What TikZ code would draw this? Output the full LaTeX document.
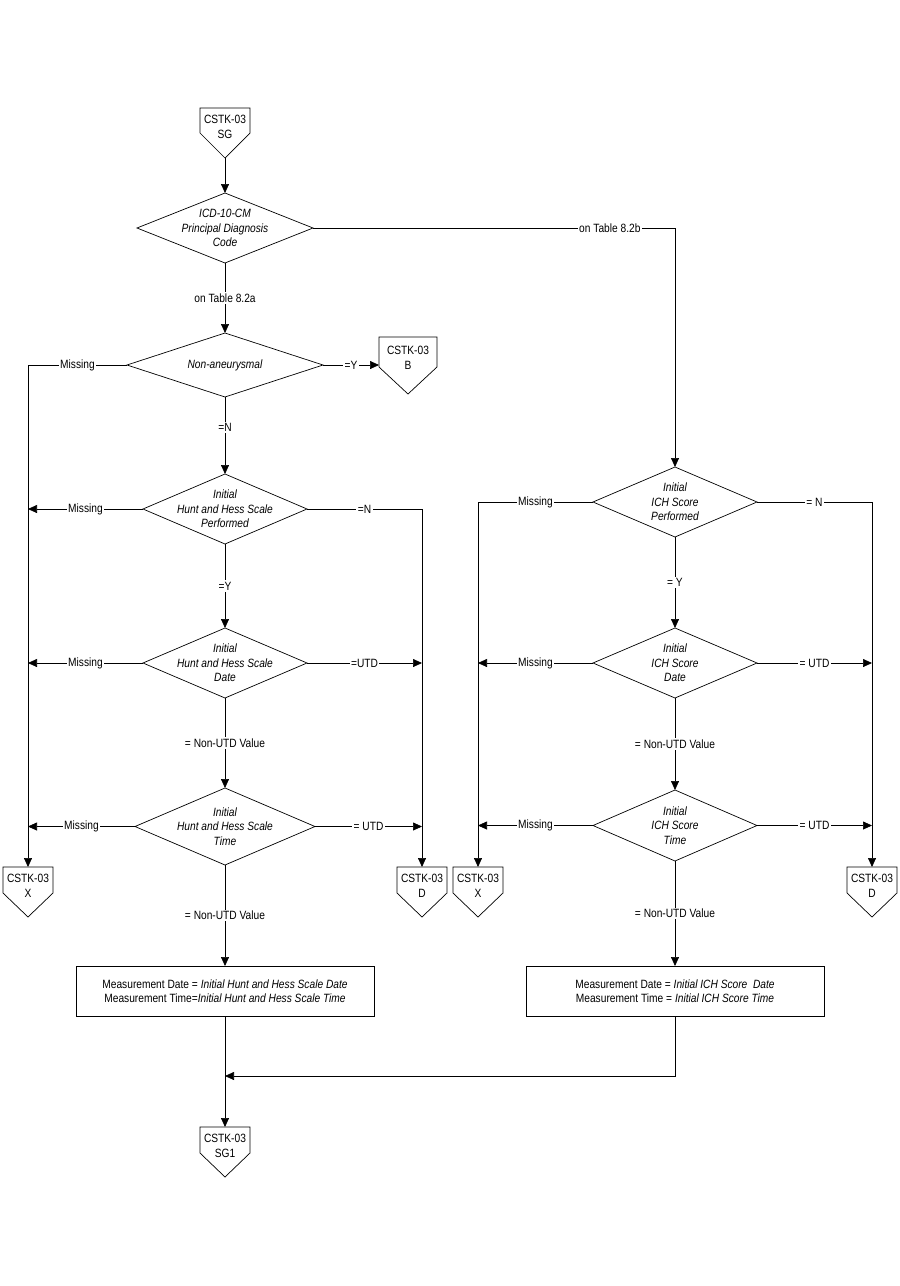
\documentclass[tikz,border=0pt]{standalone}
\usepackage{fontspec}
\setmainfont{Liberation Sans}[FakeStretch=0.85]
\usetikzlibrary{arrows.meta,shapes.geometric,calc}
\newcommand{\offpage}[8]{%
  \node[anchor=north, inner sep=0pt, outer sep=0pt, minimum width=#4pt, minimum height=#5pt] (#1) at (#2,#3) {};
  \draw[ln] (#1.north west) -- (#1.north east) -- ($(#1.north east)+(0,#6)$) -- (#1.south) -- ($(#1.north west)+(0,#6)$) -- cycle;
  \node[align=center, inner sep=0pt] (#1-t) at ($(#1.north)+(0,#7)$) {CSTK-03\\#8};
}
\begin{document}
\begin{tikzpicture}[x=1pt,y=-1pt,
  every node/.style={font=\fontsize{12}{14.5}\selectfont},
  ln/.style={line width=0.7pt, black},
  arr/.style={ln, -{Triangle[length=9pt,width=8pt]}},
  dia/.style={draw, ln, shape=diamond, inner sep=0pt, outer sep=0pt},
  dtext/.style={align=center, inner sep=0pt, font=\fontsize{12}{14.5}\selectfont\itshape},
  lab/.style={fill=white, inner sep=1.5pt},
  boxn/.style={draw, ln, minimum width=298pt, minimum height=50pt, align=center, inner sep=0pt, outer sep=0pt}]
\useasboundingbox (0,0) rectangle (900,1286);

% decision diamonds (left column)
\node[dia, minimum width=176pt, minimum height=70pt] (icd) at (225,228) {};
\node[dtext] (icd-t) at (icd) {ICD-10-CM\\Principal Diagnosis\\Code};
\node[dia, minimum width=196pt, minimum height=64pt] (nonan) at (225,365) {};
\node[dtext] (nonan-t) at (nonan) {Non-aneurysmal};
\node[dia, minimum width=164pt, minimum height=70pt] (hp) at (225,509) {};
\node[dtext] (hp-t) at (hp) {Initial\\Hunt and Hess Scale\\Performed};
\node[dia, minimum width=164pt, minimum height=70pt] (hd) at (225,663) {};
\node[dtext] (hd-t) at (hd) {Initial\\Hunt and Hess Scale\\Date};
\node[dia, minimum width=180pt, minimum height=77pt] (ht) at (225,826.5) {};
\node[dtext] (ht-t) at (ht) {Initial\\Hunt and Hess Scale\\Time};

% decision diamonds (right column)
\node[dia, minimum width=164pt, minimum height=70pt] (ichp) at (675,502) {};
\node[dtext] (ichp-t) at (ichp) {Initial\\ICH Score\\Performed};
\node[dia, minimum width=164pt, minimum height=70pt] (ichd) at (675,663) {};
\node[dtext] (ichd-t) at (ichd) {Initial\\ICH Score\\Date};
\node[dia, minimum width=164pt, minimum height=71pt] (icht) at (675,825.5) {};
\node[dtext] (icht-t) at (icht) {Initial\\ICH Score\\Time};

% process boxes
\node[boxn] (box1) at (225,991) {Measurement Date = \textit{Initial Hunt and Hess Scale Date}\\Measurement Time=\textit{Initial Hunt and Hess Scale Time}};
\node[boxn] (box2) at (675,991) {Measurement Date = \textit{Initial ICH Score\ \ Date}\\Measurement Time = \textit{Initial ICH Score Time}};

% off-page connectors
\offpage{sg}{225}{108}{50}{50}{25}{19}{SG}
\offpage{b}{408}{337}{58}{57}{30}{21}{B}
\offpage{x1}{28}{867}{50}{50}{26}{19}{X}
\offpage{d1}{422}{867}{50}{50}{26}{19}{D}
\offpage{x2}{478}{867}{50}{50}{26}{19}{X}
\offpage{d2}{872}{867}{50}{50}{26}{19}{D}
\offpage{sg1}{225}{1127}{50}{50}{26}{19}{SG1}

% connectors
\draw[arr] (sg.south) -- (icd.north);
\draw[arr] (icd.south) -- node[lab] (l1) {on Table 8.2a} (nonan.north);
\draw[arr] (icd.east) -| node[lab, pos=0.41] (l2) {on Table 8.2b} (ichp.north);

\draw[arr] (nonan.west) -| node[lab, pos=0.25] (l3) {Missing} (x1.north);
\draw[arr] (nonan.east) -- node[lab] (l4) {=Y} (nonan.east -| b.west);
\draw[arr] (nonan.south) -- node[lab, pos=0.4] (l5) {=N} (hp.north);

\draw[arr] (hp.west) -- node[lab] (l6) {Missing} (hp.west -| x1.north);
\draw[arr] (hp.east) -| node[lab, pos=0.25] (l7) {=N} (d1.north);
\draw[arr] (hp.south) -- node[lab] (l8) {=Y} (hd.north);

\draw[arr] (hd.west) -- node[lab] (l9) {Missing} (hd.west -| x1.north);
\draw[arr] (hd.east) -- node[lab] (l10) {=UTD} (hd.east -| d1.north);
\draw[arr] (hd.south) -- node[lab] (l11) {= Non-UTD Value} (ht.north);

\draw[arr] (ht.west) -- node[lab] (l12) {Missing} (ht.west -| x1.north);
\draw[arr] (ht.east) -- node[lab] (l13) {= UTD} (ht.east -| d1.north);
\draw[arr] (ht.south) -- node[lab] (l14) {= Non-UTD Value} (box1.north);

\draw[arr] (ichp.west) -| node[lab, pos=0.25] (l15) {Missing} (x2.north);
\draw[arr] (ichp.east) -| node[lab, pos=0.25] (l16) {= N} (d2.north);
\draw[arr] (ichp.south) -- node[lab] (l17) {= Y} (ichd.north);

\draw[arr] (ichd.west) -- node[lab] (l18) {Missing} (ichd.west -| x2.north);
\draw[arr] (ichd.east) -- node[lab] (l19) {= UTD} (ichd.east -| d2.north);
\draw[arr] (ichd.south) -- node[lab] (l20) {= Non-UTD Value} (icht.north);

\draw[arr] (icht.west) -- node[lab] (l21) {Missing} (icht.west -| x2.north);
\draw[arr] (icht.east) -- node[lab] (l22) {= UTD} (icht.east -| d2.north);
\draw[arr] (icht.south) -- node[lab] (l23) {= Non-UTD Value} (box2.north);

\coordinate (merge) at (225,1076);
\draw[arr] (box2.south) |- (merge);
\draw[arr] (box1.south) -- (sg1.north);
\end{tikzpicture}
\end{document}
